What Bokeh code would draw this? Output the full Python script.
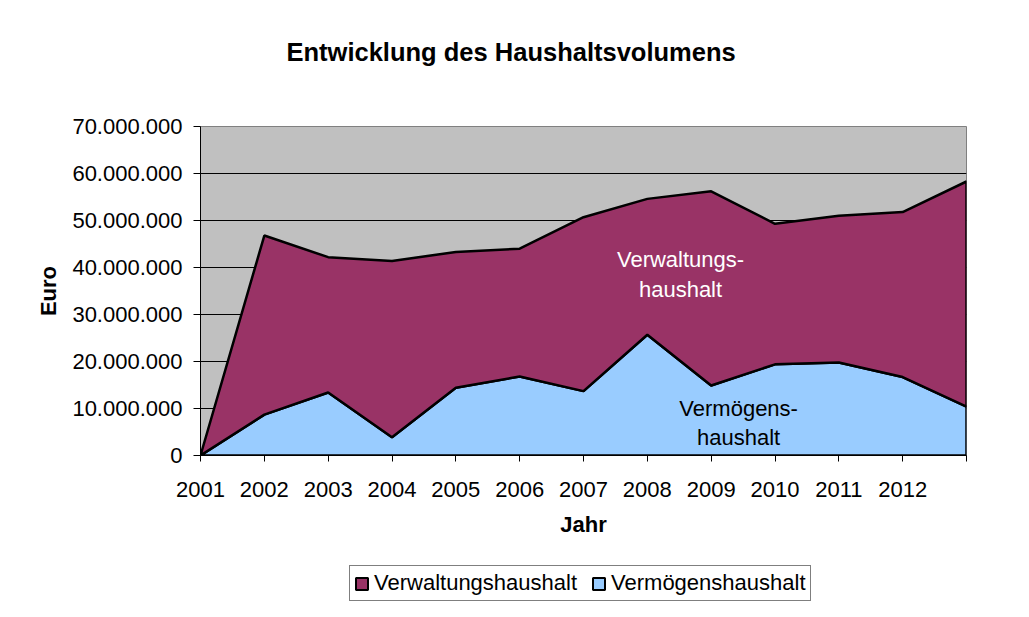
import numpy as np
from bokeh.plotting import figure
from bokeh.layouts import column
from bokeh.models import (Range1d, FixedTicker, Label, Legend, LegendItem, Title)
from bokeh.embed import file_html
from bokeh.resources import INLINE

# ---- data ----
x_labels = ["2001", "2002", "2003", "2004", "2005", "2006", "2007",
            "2008", "2009", "2010", "2011", "2012"]
vermoegen = [0, 8.7e6, 13.4e6, 3.9e6, 14.4e6, 16.8e6, 13.7e6,
             25.7e6, 14.9e6, 19.4e6, 19.8e6, 16.7e6, 10.4e6]
verwaltung = [0, 38.1e6, 28.8e6, 37.5e6, 28.9e6, 27.2e6, 37.0e6,
              28.9e6, 41.3e6, 29.9e6, 31.2e6, 35.1e6, 47.9e6]
y_ticks = [0, 10_000_000, 20_000_000, 30_000_000, 40_000_000,
           50_000_000, 60_000_000, 70_000_000]
series_names = ["Verwaltungshaushalt", "Vermögenshaushalt"]

FONT = "Liberation Sans"
C_VERW = "#993366"
C_VERM = "#99CCFF"
LW = 2.5

n = len(vermoegen)
xs = np.arange(n)
low = np.array(vermoegen, dtype=float)
top = low + np.array(verwaltung, dtype=float)
zeros = np.zeros(n)
poly_x = np.concatenate([xs, xs[::-1]])
verm_y = np.concatenate([low, zeros[::-1]])
verw_y = np.concatenate([top, low[::-1]])

W, H = 1024, 547
p = figure(width=W, height=H, output_backend="svg", toolbar_location=None,
           x_range=Range1d(0, n - 1), y_range=Range1d(0, y_ticks[-1]),
           min_border_left=200, min_border_right=W - 966,
           min_border_top=126, min_border_bottom=H - 455)
p.background_fill_color = "#C0C0C0"
p.border_fill_color = "white"
p.outline_line_color = "#808080"
p.outline_line_width = 1

# stacked areas as outlined patches
p.patch(poly_x, verm_y, fill_color=C_VERM, line_color="black", line_width=LW)
p.patch(poly_x, verw_y, fill_color=C_VERW, line_color="black", line_width=LW)

# grid
p.xgrid.visible = False
p.ygrid.ticker = FixedTicker(ticks=y_ticks)
p.ygrid.grid_line_color = "black"
p.ygrid.grid_line_width = 1

# x axis
p.xaxis.ticker = FixedTicker(ticks=list(range(n)))
ov = {i: lab for i, lab in enumerate(x_labels)}
for i in range(len(x_labels), n):
    ov[i] = ""
p.xaxis.major_label_overrides = ov
p.xaxis.axis_label = "Jahr"
# y axis
p.yaxis.ticker = FixedTicker(ticks=y_ticks)
p.yaxis.major_label_overrides = {v: f"{v:,}".replace(",", ".") for v in y_ticks}
p.yaxis.axis_label = "Euro"

for ax in (p.xaxis, p.yaxis):
    ax.axis_line_color = "black"
    ax.axis_line_width = 1
    ax.major_tick_line_color = "black"
    ax.major_tick_in = 0
    ax.minor_tick_line_color = None
    ax.major_label_text_font = FONT
    ax.major_label_text_font_size = "22px"
    ax.major_label_text_color = "black"
    ax.axis_label_text_font = FONT
    ax.axis_label_text_font_size = "22px"
    ax.axis_label_text_font_style = "bold"
    ax.axis_label_text_color = "black"
p.xaxis.major_tick_out = 6
p.xaxis.major_label_standoff = 20
p.xaxis.axis_label_standoff = 12
p.yaxis.major_tick_out = 7
p.yaxis.major_label_standoff = 11
p.yaxis.axis_label_standoff = 8

# title (spacer first = closest to the frame)
p.title.text = "Entwicklung des Haushaltsvolumens"
p.title.text_font = FONT
p.title.text_font_size = "25.5px"
p.title.text_font_style = "bold"
p.title.text_color = "black"
p.title.align = "left"
p.title.offset = 86
p.add_layout(Title(text=" ", text_font_size="1px", standoff=53), "above")

# area labels
for txt, x, y, col in [("Verwaltungs-", 7.52, 41.7e6, "white"),
                       ("haushalt", 7.52, 35.4e6, "white"),
                       ("Vermögens-", 8.43, 10.0e6, "black"),
                       ("haushalt", 8.43, 3.8e6, "black")]:
    p.add_layout(Label(x=x, y=y, text=txt, text_font=FONT, text_font_size="22px",
                       text_align="center", text_baseline="alphabetic", text_color=col))

# ---- legend strip below ----
H2 = 612 - H
p2 = figure(width=W, height=H2, output_backend="svg", toolbar_location=None,
            x_range=Range1d(-2, -1), y_range=Range1d(0, 1),
            min_border_left=200, min_border_right=W - 966,
            min_border_top=0, min_border_bottom=0)
p2.axis.visible = False
p2.grid.visible = False
p2.outline_line_color = None
p2.background_fill_color = "white"
p2.border_fill_color = "white"
g_verw = p2.patch(poly_x, verw_y, fill_color=C_VERW, line_color="black", line_width=2)
g_verm = p2.patch(poly_x, verm_y, fill_color=C_VERM, line_color="black", line_width=2)

legend = Legend(items=[LegendItem(label=series_names[0], renderers=[g_verw]),
                       LegendItem(label=series_names[1], renderers=[g_verm])],
                orientation="horizontal", location=(149, 11))
legend.margin = 0
legend.border_line_color = "black"
legend.border_line_width = 1
legend.background_fill_color = "white"
legend.background_fill_alpha = 1
legend.label_text_font = FONT
legend.label_text_font_size = "22px"
legend.label_text_color = "black"
legend.label_text_line_height = 1.0
legend.glyph_width = 15
legend.glyph_height = 15
legend.label_standoff = 5
legend.spacing = 14
legend.padding = 4
legend.label_height = 15
p2.add_layout(legend, "center")

lay = column(p, p2)
open("out.html", "w").write(file_html(lay, INLINE))
